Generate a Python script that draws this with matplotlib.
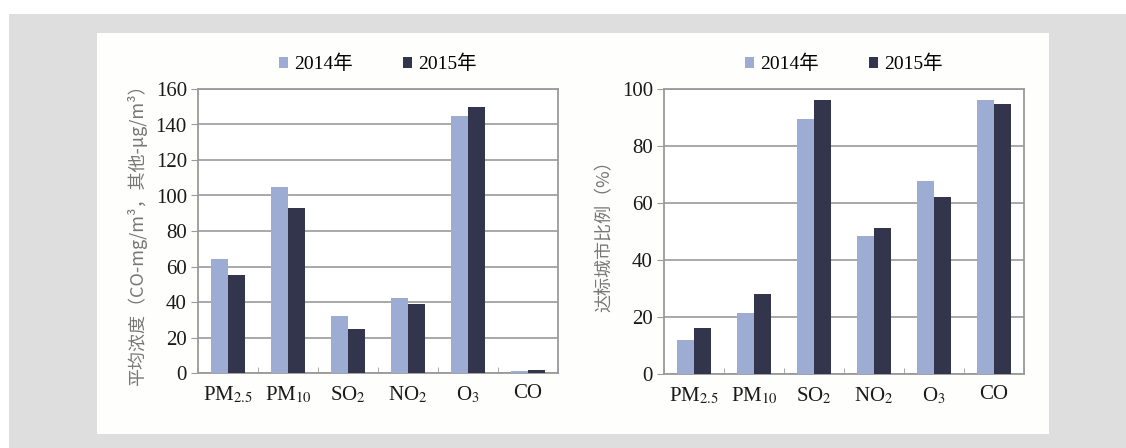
import matplotlib
matplotlib.use("Agg")
import matplotlib.pyplot as plt
import matplotlib.patches as ptc
import numpy as np

plt.rcParams['font.family'] = ['Liberation Serif', 'Noto Sans CJK SC']
plt.rcParams['mathtext.fontset'] = 'stix'

# données
polluants = ['PM$_{2.5}$', 'PM$_{10}$', 'SO$_{2}$', 'NO$_{2}$', 'O$_{3}$', 'CO']
annees = ['2014年', '2015年']
conc_2014 = [64, 105, 32, 42, 145, 1.2]
conc_2015 = [55, 93, 25, 39, 150, 1.6]
taux_2014 = [12, 21.3, 89.3, 48.4, 67.6, 96.0]
taux_2015 = [16, 28.1, 96.0, 51.3, 62.1, 94.7]

c_clair = '#9cacd3'
c_fonce = '#32354c'
c_gris = '#9a9a9a'

fig = plt.figure(figsize=(11.26, 4.48), dpi=100)
fig.patch.set_facecolor('white')
# fond gris et panneau blanc
fig.patches.append(ptc.Rectangle((9/1126, 0), 1, 434/448, transform=fig.transFigure,
                                 facecolor='#dedede', edgecolor='none', zorder=-2))
fig.patches.append(ptc.Rectangle((97/1126, 14/448), 952/1126, 401/448, transform=fig.transFigure,
                                 facecolor='#fefefc', edgecolor='none', zorder=-1))


def trace(ax, v1, v2, ymax, pas, label):
    x = np.arange(len(polluants))
    l = 0.29
    ax.bar(x - l/2, v1, l, color=c_clair, zorder=3, label=annees[0])
    ax.bar(x + l/2, v2, l, color=c_fonce, zorder=3, label=annees[1])
    ax.set_xlim(-0.5, len(polluants) - 0.5)
    ax.set_ylim(0, ymax)
    ax.set_yticks(np.arange(0, ymax + 1, pas))
    ax.set_xticks(x)
    ax.set_xticklabels(polluants, fontsize=15, color='#1a1a1a')
    ax.set_xticks(np.arange(-0.5, len(polluants)), minor=True)
    ax.tick_params(axis='x', which='major', length=0, pad=8)
    ax.tick_params(axis='x', which='minor', direction='in', length=4, color=c_gris)
    ax.tick_params(axis='y', length=5, color=c_gris, labelsize=15, labelcolor='#1a1a1a', pad=3)
    ax.grid(axis='y', color=c_gris, lw=1.2, zorder=0)
    ax.set_facecolor('white')
    for s in ax.spines.values():
        s.set_color(c_gris)
        s.set_linewidth(1.3)
    ax.set_ylabel(label, color='#777777', fontsize=13,
                  family=['Noto Sans CJK SC', 'DejaVu Sans'], labelpad=6)
    ax.legend(loc='lower center', bbox_to_anchor=(0.5, 1.0), ncol=2, frameon=False,
              fontsize=14, handlelength=0.45, handleheight=0.45, handletextpad=0.3,
              columnspacing=2.6, borderaxespad=0.4)


ax1 = fig.add_axes([198/1126, 75/448, 360/1126, 284/448])
trace(ax1, conc_2014, conc_2015, 160, 20, '平均浓度（CO-mg/m³，其他-μg/m³）')

ax2 = fig.add_axes([664/1126, 74/448, 360/1126, 285/448])
trace(ax2, taux_2014, taux_2015, 100, 20, '达标城市比例（%）')

fig.savefig('out.png', dpi=100)
